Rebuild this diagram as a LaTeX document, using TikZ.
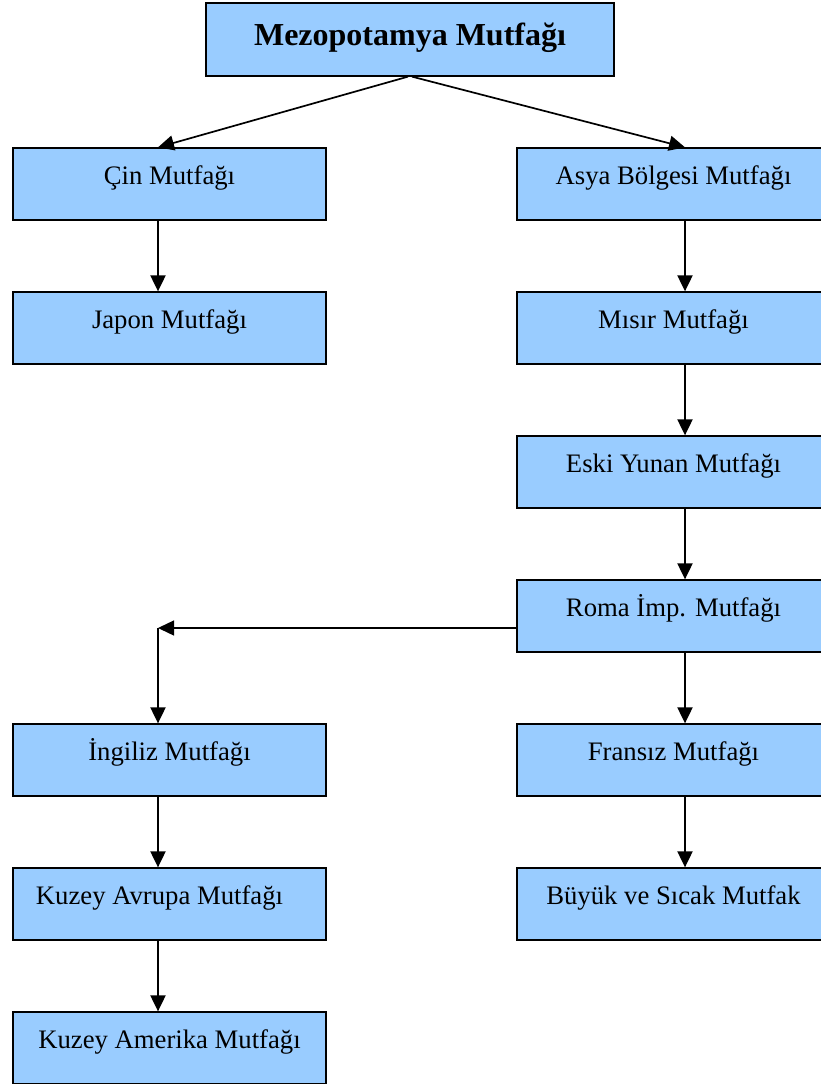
\documentclass[tikz,border=0pt]{standalone}
\usepackage{fontspec}
\setmainfont{Liberation Serif}
\usetikzlibrary{arrows.meta}
\definecolor{boxblue}{RGB}{153,204,255}
\tikzset{
  cuisine/.style={draw=black, line width=1.3pt, fill=boxblue, rectangle,
    minimum width=313pt, inner sep=0pt, text height=36pt, text depth=36pt,
    font=\fontsize{26.7}{32}\selectfont},
  headbox/.style={draw=black, line width=1.3pt, fill=boxblue, rectangle,
    minimum width=408pt, inner sep=0pt, text height=42pt, text depth=31pt,
    font=\fontsize{32}{38}\selectfont\bfseries},
  flow/.style={line width=2pt, -{Triangle[length=16pt,width=15pt]}},
  slant/.style={line width=1.7pt, -{Triangle[length=16pt,width=15pt]}},
  branch/.style={line width=1.4pt, -{Triangle[length=16pt,width=15pt]}}
}
\begin{document}
\begin{tikzpicture}[x=1pt,y=-1pt]
\useasboundingbox (0,0) rectangle (821,1084);
\clip (0,0) rectangle (821,1084);

% root
\node[headbox] (mezo) at (410,39.5) {Mezopotamya Mutfağı};

% left column
\node[cuisine] (cin)     at (169.5,184)  {Çin Mutfağı};
\node[cuisine] (japon)   at (169.5,328)  {Japon Mutfağı};
\node[cuisine] (ingiliz) at (169.5,760)  {İngiliz Mutfağı};
\node[cuisine] (kavrupa) at (169.5,904)  {Kuzey Avrupa Mutfağı\hspace{20pt}\mbox{}};
\node[cuisine] (kamerika) at (169.5,1048) {Kuzey Amerika Mutfağı};

% right column
\node[cuisine] (asya)    at (673.5,184) {Asya Bölgesi Mutfağı};
\node[cuisine] (misir)   at (673.5,328) {Mısır Mutfağı};
\node[cuisine] (yunan)   at (673.5,472) {Eski Yunan Mutfağı};
\node[cuisine] (roma)    at (673.5,616) {Roma İmp. Mutfağı};
\node[cuisine] (fransiz) at (673.5,760) {Fransız Mutfağı};
\node[cuisine] (buyuk)   at (673.5,904) {Büyük ve Sıcak Mutfak};

\coordinate (bend) at (158,628);

% connectors
\draw[slant] ([xshift=-2pt]mezo.south) -- ([xshift=-11.5pt]cin.north);
\draw[slant] ([xshift=2pt]mezo.south) -- ([xshift=11.5pt]asya.north);

\draw[flow] ([xshift=-11.5pt]cin.south) -- ([xshift=-11.5pt]japon.north);
\draw[flow] ([xshift=11.5pt]asya.south) -- ([xshift=11.5pt]misir.north);
\draw[flow] ([xshift=11.5pt]misir.south) -- ([xshift=11.5pt]yunan.north);
\draw[flow] ([xshift=11.5pt]yunan.south) -- ([xshift=11.5pt]roma.north);
\draw[flow] ([xshift=11.5pt]roma.south) -- ([xshift=11.5pt]fransiz.north);
\draw[flow] ([xshift=11.5pt]fransiz.south) -- ([xshift=11.5pt]buyuk.north);

\draw[branch] ([yshift=-12pt]roma.west) -- (bend);
\draw[flow] (bend) -- ([xshift=-11.5pt]ingiliz.north);
\draw[flow] ([xshift=-11.5pt]ingiliz.south) -- ([xshift=-11.5pt]kavrupa.north);
\draw[flow] ([xshift=-11.5pt]kavrupa.south) -- ([xshift=-11.5pt]kamerika.north);
\end{tikzpicture}
\end{document}
